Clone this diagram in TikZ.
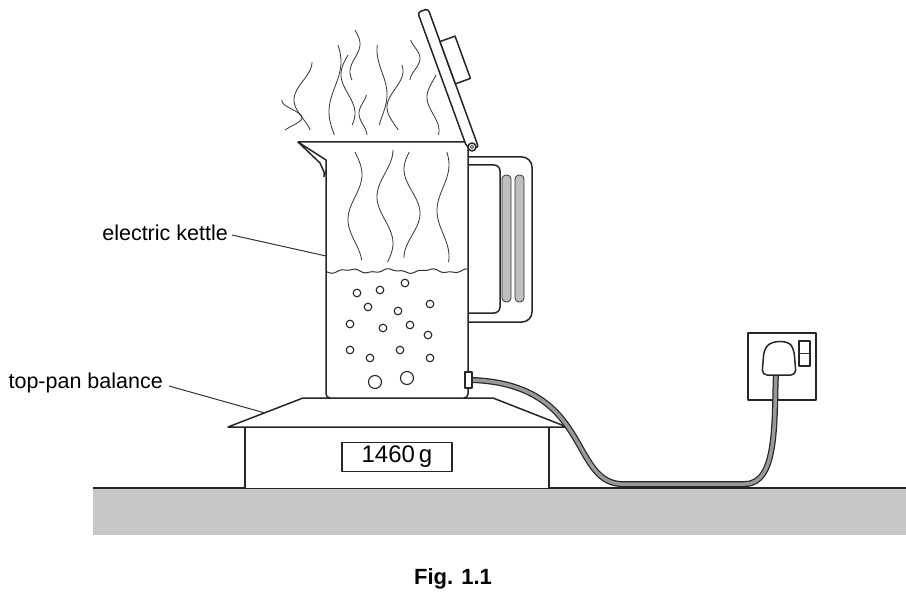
\documentclass[tikz,border=0pt]{standalone}
\usepackage{fontspec}
\setmainfont{Liberation Sans}
\begin{document}
\begin{tikzpicture}[x=1pt,y=-1pt,line join=round,
 ol/.style={draw=black!85,line width=1.5},
 thin/.style={draw=black!80,line width=0.8},
 bub/.style={draw=black!85,line width=1.1,fill=white},
 lbl/.style={font=\fontsize{21.5}{26}\selectfont,inner sep=0}]
\useasboundingbox (0,0) rectangle (906,607);
% ground
\fill[black!22] (93,488) rectangle (906,535);
\draw[ol] (93,488) -- (906,488);
% balance
\draw[ol,fill=white] (245,488) -- (245,427) -- (549,427) -- (549,488);
\draw[ol,fill=white] (228,427) -- (303,398) -- (493,398) -- (567,427) -- cycle;
\node[ol,minimum width=110,minimum height=29,line width=1.2,inner sep=0] (disp) at (397,457) {};
\node[inner sep=0,font=\fontsize{24}{26}\selectfont] at (397,457) {1460\,g};
% handle
\draw[ol,fill=white,rounded corners=10] (468,157) -- (532,157) -- (532,322) -- (468,322);
\draw[ol,rounded corners=6] (468,165) -- (500,165) -- (500,313) -- (468,313);
\draw[thin,fill=black!25,rounded corners=4] (502,175) rectangle (511,302);
\draw[thin,fill=black!25,rounded corners=4] (515,175) rectangle (524,302);
% kettle body
\draw[ol,fill=white,rounded corners=4] (326,165) -- (326,398) -- (468,398) -- (468,142);
\fill[white] (298,142) -- (468,142) -- (468,170) -- (326,170) -- cycle;
\draw[ol] (326,175) -- (326,160) -- (298,142) -- (468,142) -- (468,170);
\draw[ol] (298,142) -- (320,163) -- (324,172) -- (324,177);
% water surface
\draw[thin,line width=1] plot[domain=327:467,samples=60] (\x,{271+1.6*sin(\x*9)+0.8*sin(\x*23)});
% bubbles
\foreach \p/\q in {380/290,405/283,357/293,430/304,368/307,398/311,350/324,383/328,410/325,428/335,350/350,370/358,400/350,430/358}
 \draw[bub] (\p,\q) circle (3.8);
\draw[bub] (375,382) circle (6.5);
\draw[bub] (407,378) circle (6.5);
% steam inside
\foreach \a/\b/\c/\amp/\ph in {355/152/260/7/0,385/150/262/8/90,412/152/258/8/200,443/152/262/6/40}
 \draw[thin] plot[domain=0:1,samples=40] ({\a+\amp*sin(360*1.2*\x+\ph)},{\b+(\c-\b)*\x});
% steam above
\foreach \a/\b/\c/\amp/\ph in {303/62/130/9/90,292/100/130/10/260,335/45/135/6/30,348/55/125/7/180,355/30/80/5/0,363/95/135/4/120,382/45/125/5/250,395/65/130/8/60,415/40/80/5/300,433/75/135/6/150}
 \draw[thin] plot[domain=0:1,samples=40] ({\a+\amp*sin(360*0.9*\x+\ph)},{\b+(\c-\b)*\x});
% hinge and lid
\begin{scope}[shift={(472,147)},rotate=20]
 \draw[ol,fill=white,rounded corners=3] (6,3) -- (6,-145) -- (-5,-145) -- (-5,-2) -- cycle;
 \draw[ol,fill=white] (6,-110) rectangle (22,-65);
\end{scope}
\draw[ol,fill=white] (472,147) circle (4);
\draw[thin] (472,147) circle (1.6);
% socket
\draw[ol,fill=white] (748,333) rectangle (816,400);
\draw[ol,fill=white] (799,341) rectangle (810,366);
\draw[thin] (799,353) -- (810,353);
% cable
\draw[black!85,line width=6] (473,380) .. controls (590,385) and (570,480) .. (620,484) -- (745,484) .. controls (778,484) and (774,420) .. (776,372);
\draw[black!40,line width=3.5] (473,380) .. controls (590,385) and (570,480) .. (620,484) -- (745,484) .. controls (778,484) and (774,420) .. (776,372);
\draw[ol,fill=white] (465,372) rectangle (472,388);
% plug
\draw[ol,fill=white,rounded corners=5] (762,375) -- (764,350) .. controls (772,340) and (788,340) .. (794,350) -- (796,375) -- cycle;
% labels
\node[lbl,anchor=east] (ek) at (228,233) {electric kettle};
\draw[thin,line width=1] (ek.east) ++(4,2) -- (326,256);
\node[lbl,anchor=east] (tb) at (163,383) {top-pan balance};
\draw[thin,line width=1] (tb.east) ++(6,3) -- (265,413);
\node[lbl,font=\bfseries\fontsize{22}{26}\selectfont] (fig) at (453,579) {Fig. 1.1};
\end{tikzpicture}
\end{document}
